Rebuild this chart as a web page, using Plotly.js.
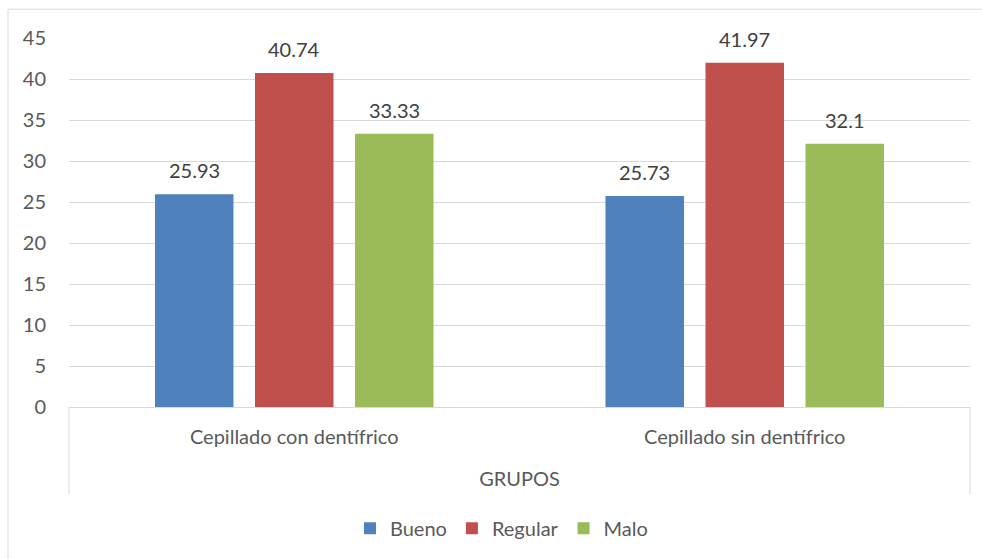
<!DOCTYPE html>
<html>
<head>
<meta charset="utf-8">
<script src="https://cdn.plot.ly/plotly-3.0.1.min.js"></script>
<style>
  html, body { margin: 0; padding: 0; background: #ffffff; }
  #chart { width: 982px; height: 559px; }
</style>
</head>
<body>
<div id="chart"></div>
<script>
// Categories and series values
const categories = ['Cepillado con dentífrico', 'Cepillado sin dentífrico'];
const seriesNames = ['Bueno', 'Regular', 'Malo'];
const bueno = [25.93, 25.73];
const regular = [40.74, 41.97];
const malo = [33.33, 32.1];
const yTicks = [0, 5, 10, 15, 20, 25, 30, 35, 40, 45];
const axisTitle = 'GRUPOS';

const seriesValues = [bueno, regular, malo];
const colors = ['#4F81BD', '#C0504D', '#9BBB59'];
const FONT = 'Lato, "Open Sans", sans-serif';
const FS = 20;
const gridColor = '#d9d9d9';
const textColor = '#595959';
const BARGAP = 0.334;
const GROUPGAP = 0.215;

const traces = seriesValues.map((vals, i) => ({
  type: 'bar',
  name: seriesNames[i],
  x: categories,
  y: vals,
  marker: { color: colors[i], line: { width: 0 } },
  hoverinfo: 'skip'
}));

// Data labels above each bar, placed at the bar's slot within its group
const slot = (1 - BARGAP) / seriesValues.length;
const annotations = [];
seriesValues.forEach((vals, i) => {
  vals.forEach((v, c) => {
    annotations.push({
      x: c + (i - (seriesValues.length - 1) / 2) * slot,
      y: v,
      xref: 'x', yref: 'y',
      text: String(v),
      showarrow: false,
      yanchor: 'middle',
      yshift: 24,
      font: { family: FONT, size: FS, color: '#404040' }
    });
  });
});

const layout = {
  width: 982,
  height: 559,
  margin: { l: 69, r: 12, t: 38, b: 151 },
  paper_bgcolor: '#ffffff',
  plot_bgcolor: '#ffffff',
  barmode: 'group',
  bargap: BARGAP,
  bargroupgap: GROUPGAP,
  showlegend: true,
  legend: {
    orientation: 'h',
    x: 0.48, xanchor: 'center',
    y: -0.325, yanchor: 'middle',
    font: { family: FONT, size: FS, color: textColor },
    itemwidth: 30,
    traceorder: 'normal'
  },
  xaxis: {
    type: 'category',
    showline: true,
    linecolor: gridColor,
    linewidth: 1,
    ticks: '',
    ticklabelstandoff: 12,
    tickfont: { family: FONT, size: FS, color: textColor },
    showgrid: false,
    fixedrange: true,
    title: {
      text: axisTitle,
      standoff: 24,
      font: { family: FONT, size: FS, color: textColor }
    }
  },
  yaxis: {
    range: [0, 45],
    tickvals: yTicks,
    ticktext: yTicks.map(String),
    showgrid: true,
    gridcolor: gridColor,
    gridwidth: 1,
    zeroline: false,
    showline: false,
    ticks: '',
    ticklabelstandoff: 22,
    tickfont: { family: FONT, size: FS, color: textColor },
    fixedrange: true
  },
  annotations: annotations,
  shapes: [
    // category box sides below the axis
    { type: 'line', xref: 'paper', yref: 'paper', x0: 0, x1: 0, y0: 0, y1: -0.237,
      line: { color: gridColor, width: 1 } },
    { type: 'line', xref: 'paper', yref: 'paper', x0: 1, x1: 1, y0: 0, y1: -0.237,
      line: { color: gridColor, width: 1 } },
    // chart frame
    { type: 'line', xref: 'paper', yref: 'paper', x0: -0.0677, x1: 1.02, y0: 1.078, y1: 1.078,
      line: { color: gridColor, width: 1 } },
    { type: 'line', xref: 'paper', yref: 'paper', x0: -0.0677, x1: -0.0677, y0: 1.078, y1: -0.42,
      line: { color: gridColor, width: 1 } }
  ]
};

Plotly.newPlot('chart', traces, layout, { displayModeBar: false, staticPlot: true });
</script>
</body>
</html>
